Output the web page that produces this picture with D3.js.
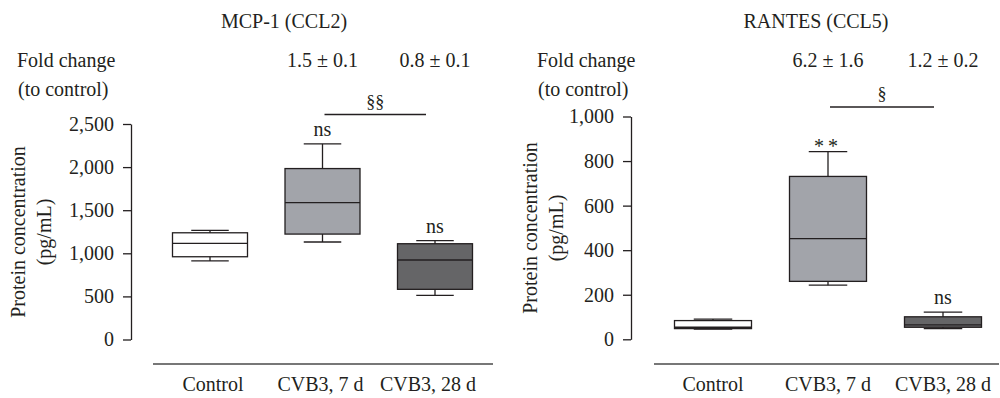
<!DOCTYPE html>
<html>
<head>
<meta charset="utf-8">
<script src="https://cdn.jsdelivr.net/npm/d3@7"></script>
<style>
  body { margin: 0; background: #fff; }
  text { font-family: "Liberation Serif", "DejaVu Serif", serif; fill: #231f20; }
</style>
</head>
<body>
<div id="chart"></div>
<script>
// chart values
var categories = ["Control", "CVB3, 7 d", "CVB3, 28 d"];

// box stats: [min, q1, median, q3, max]
var mcpBoxes = [[911, 960, 1115, 1238, 1265],
                [1131, 1223, 1589, 1983, 2269],
                [513, 582, 922, 1111, 1146]];
var rantesBoxes = [[46, 48, 54, 84, 91],
                   [243, 260, 452, 731, 842],
                   [48, 54, 65, 101, 122]];

var mcpTicks = [0, 500, 1000, 1500, 2000, 2500];
var rantesTicks = [0, 200, 400, 600, 800, 1000];

var mcpFold = ["", "1.5 ± 0.1", "0.8 ± 0.1"];
var rantesFold = ["", "6.2 ± 1.6", "1.2 ± 0.2"];

var mcpMarks = ["", "ns", "ns"];
var rantesMarks = ["", "**", "ns"];

var boxFills = ["#ffffff", "#a2a4aa", "#656567"];
var ink = "#231f20";
var fs = "20px";

var width = 1000, height = 398;

var svg = d3.select("#chart")
            .append("svg")
            .attr("width", width)
            .attr("height", height);

var panels = [
  { title: "MCP-1 (CCL2)", titleX: 284, left: 17, axisX: 131,
    boxes: mcpBoxes, ticks: mcpTicks, fold: mcpFold, marks: mcpMarks, sig: "§§",
    xRange: [210, 435], labelRange: [213, 428], yRange: [339.5, 124], max: 2500,
    baseLine: [153, 493], boxW: 75, labelX: 25, labelY: 232 },
  { title: "RANTES (CCL5)", titleX: 816, left: 537, axisX: 631,
    boxes: rantesBoxes, ticks: rantesTicks, fold: rantesFold, marks: rantesMarks, sig: "§",
    xRange: [713, 943], labelRange: [713, 943], yRange: [339.3, 116.5], max: 1000,
    baseLine: [654, 999], boxW: 77, labelX: 537, labelY: 228 }
];

panels.forEach(function(p) {
  var g = svg.append("g");

  var xScale = d3.scalePoint().domain(categories).range(p.xRange);
  var xLabel = d3.scalePoint().domain(categories).range(p.labelRange);
  var yScale = d3.scaleLinear().domain([0, p.max]).range(p.yRange);

  // titles and fold change header
  g.append("text")
   .attr("x", p.titleX).attr("y", 28)
   .attr("text-anchor", "middle")
   .style("font-size", fs)
   .text(p.title);

  g.append("text").attr("x", p.left).attr("y", 67)
   .style("font-size", fs).text("Fold change");
  g.append("text").attr("x", p.left + 1).attr("y", 96)
   .style("font-size", fs).text("(to control)");

  g.selectAll(".fold")
   .data(p.fold)
   .enter()
   .append("text")
   .attr("x", function(d, i) { return xScale(categories[i]); })
   .attr("y", 67)
   .attr("text-anchor", "middle")
   .style("font-size", fs)
   .text(function(d) { return d; });

  // y axis
  var axis = g.append("g")
              .attr("transform", "translate(" + p.axisX + ",0)")
              .call(d3.axisLeft(yScale)
                      .tickValues(p.ticks)
                      .tickSize(8)
                      .tickSizeOuter(0)
                      .tickPadding(9)
                      .tickFormat(d3.format(",")));
  axis.select(".domain").attr("stroke", ink).attr("stroke-width", 1.3);
  axis.selectAll(".tick line").attr("stroke", ink).attr("stroke-width", 1.3);
  axis.selectAll(".tick text")
      .style("font-size", fs)
      .style("font-family", "'Liberation Serif', serif")
      .attr("fill", ink);

  // y label
  var lab = g.append("text")
             .attr("transform", "translate(" + p.labelX + "," + p.labelY + ") rotate(-90)")
             .attr("text-anchor", "middle")
             .style("font-size", fs);
  lab.append("tspan").attr("x", 0).attr("y", 0).text("Protein concentration");
  lab.append("tspan").attr("x", 0).attr("y", 26).text("(pg/mL)");

  // bottom line and category labels
  g.append("line")
   .attr("x1", p.baseLine[0]).attr("x2", p.baseLine[1])
   .attr("y1", 364).attr("y2", 364)
   .attr("stroke", "#4a4a4a").attr("stroke-width", 1.5);

  g.selectAll(".cat")
   .data(categories)
   .enter()
   .append("text")
   .attr("x", function(d) { return xLabel(d); })
   .attr("y", 391)
   .attr("text-anchor", "middle")
   .style("font-size", fs)
   .text(function(d) { return d; });

  // boxes
  var boxes = g.selectAll(".box")
               .data(p.boxes)
               .enter()
               .append("g")
               .attr("transform", function(d, i) { return "translate(" + xScale(categories[i]) + ",0)"; });

  // whiskers
  boxes.append("line")
       .attr("x1", 0).attr("x2", 0)
       .attr("y1", function(d) { return yScale(d[0]); })
       .attr("y2", function(d) { return yScale(d[4]); })
       .attr("stroke", ink).attr("stroke-width", 1.3);
  boxes.selectAll(".cap")
       .data(function(d) { return [d[0], d[4]]; })
       .enter()
       .append("line")
       .attr("x1", -p.boxW / 4).attr("x2", p.boxW / 4)
       .attr("y1", function(v) { return yScale(v); })
       .attr("y2", function(v) { return yScale(v); })
       .attr("stroke", ink).attr("stroke-width", 1.3);

  boxes.append("rect")
       .attr("x", -p.boxW / 2)
       .attr("width", p.boxW)
       .attr("y", function(d) { return yScale(d[3]); })
       .attr("height", function(d) { return yScale(d[1]) - yScale(d[3]); })
       .attr("fill", function(d, i) { return boxFills[i]; })
       .attr("stroke", ink).attr("stroke-width", 1.3);

  boxes.append("line")
       .attr("x1", -p.boxW / 2).attr("x2", p.boxW / 2)
       .attr("y1", function(d) { return yScale(d[2]); })
       .attr("y2", function(d) { return yScale(d[2]); })
       .attr("stroke", ink).attr("stroke-width", 1.3);

  // significance marks above whiskers
  boxes.append("text")
       .attr("x", 0)
       .attr("y", function(d, i) { return yScale(d[4]) - (p.marks[i] === "**" ? -1 : 8); })
       .attr("text-anchor", "middle")
       .style("font-size", fs)
       .style("letter-spacing", function(d, i) { return p.marks[i] === "**" ? "4px" : null; })
       .text(function(d, i) { return p.marks[i]; });

  // bracket between CVB3 7 d and 28 d
  var x1 = xScale(categories[1]) + 2, x2 = xScale(categories[2]) - 9;
  var by = p.yRange[1] - 9.5;
  g.append("line")
   .attr("x1", x1).attr("x2", x2)
   .attr("y1", by).attr("y2", by)
   .attr("stroke", ink).attr("stroke-width", 1.3);
  g.append("text")
   .attr("x", (x1 + x2) / 2).attr("y", by - 7)
   .attr("text-anchor", "middle")
   .style("font-size", "18px")
   .text(p.sig);
});
</script>
</body>
</html>
